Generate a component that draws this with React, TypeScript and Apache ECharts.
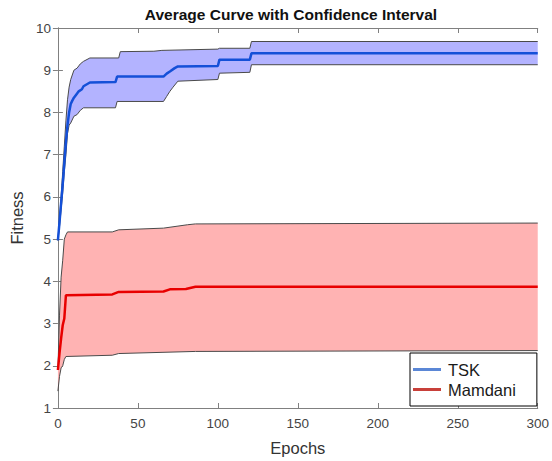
import React, { useEffect, useRef } from "react";
import * as echarts from "echarts";

const xTicks = [0, 50, 100, 150, 200, 250, 300];
const yTicks = [1, 2, 3, 4, 5, 6, 7, 8, 9, 10];
const legendNames = ["TSK", "Mamdani"];

// TSK: [epoch, fitness]
const tskMean = [
  [0, 4.97], [1, 5.4], [2, 5.85], [3, 6.3], [4, 6.8], [5, 7.3], [6, 7.7], [7, 8.0], [8, 8.2],
  [9, 8.28], [10, 8.35], [12, 8.45], [13, 8.5], [15, 8.55], [16, 8.62], [20, 8.71], [36, 8.72],
  [37, 8.85], [66, 8.85], [68, 8.92], [70, 8.97], [73, 9.05], [75, 9.09], [100, 9.1], [101, 9.25],
  [120, 9.25], [121, 9.4], [300, 9.4],
];
const tskUpper = [
  [0, 4.97], [1, 5.5], [2, 6.0], [3, 6.6], [4, 7.2], [5, 7.8], [6, 8.3], [7, 8.6], [8, 8.78],
  [10, 9.0], [12, 9.05], [14, 9.15], [16, 9.21], [20, 9.29], [38, 9.29], [39, 9.44], [60, 9.45],
  [65, 9.47], [100, 9.5], [101, 9.52], [120, 9.52], [121, 9.68], [300, 9.68],
];
const tskLower = [
  [0, 4.97], [1, 5.3], [2, 5.7], [3, 6.1], [4, 6.6], [5, 7.0], [6, 7.5], [7, 7.7], [8, 7.75],
  [10, 7.91], [12, 7.95], [14, 8.05], [16, 8.11], [36, 8.11], [37, 8.26], [66, 8.26], [68, 8.38],
  [70, 8.5], [72, 8.6], [75, 8.74], [100, 8.78], [101, 8.93], [120, 8.95], [121, 9.13], [300, 9.13],
];

// Mamdani: [epoch, fitness]
const mamMean = [
  [0, 1.9], [1, 2.3], [2, 2.65], [3, 2.96], [4, 3.12], [5, 3.67], [34, 3.69], [38, 3.75],
  [66, 3.76], [70, 3.81], [80, 3.82], [86, 3.87], [300, 3.87],
];
const mamUpper = [
  [0, 1.9], [1, 3.2], [2, 4.1], [3, 4.5], [4, 5.0], [5, 5.1], [6, 5.17], [34, 5.17], [38, 5.22],
  [66, 5.26], [81, 5.34], [86, 5.36], [300, 5.38],
];
const mamLower = [
  [0, 1.4], [1, 1.75], [2, 1.95], [3, 2.0], [4, 2.15], [5, 2.22], [34, 2.25], [38, 2.29],
  [86, 2.34], [300, 2.36],
];

const FONT = "'Liberation Sans', Arial, sans-serif";

function bandSeries(upper: number[][], lower: number[][], fill: string) {
  return {
    type: "custom",
    silent: true,
    z: 1,
    data: [[0, 1]],
    renderItem: (params: any, api: any) => {
      if (params.dataIndex !== 0) return null;
      const pts = upper
        .map((p) => api.coord(p))
        .concat(lower.slice().reverse().map((p) => api.coord(p)));
      return {
        type: "polygon",
        shape: { points: pts },
        style: { fill, stroke: "none" },
      };
    },
  };
}

function edgeSeries(data: number[][]) {
  return {
    type: "line",
    data,
    symbol: "none",
    silent: true,
    z: 2,
    lineStyle: { color: "#4a4a4a", width: 1 },
  };
}

export default function App() {
  const ref = useRef<HTMLDivElement>(null);
  useEffect(() => {
    if (!ref.current) return;
    const chart = echarts.init(ref.current, undefined, { renderer: "svg" });
    const axisLine = { show: true, lineStyle: { color: "#808080", width: 1 } };
    const tick = { show: true, inside: true, length: 5, lineStyle: { color: "#808080" } };
    chart.setOption({
      animation: false,
      backgroundColor: "#ffffff",
      title: {
        text: "Average Curve with Confidence Interval",
        left: 286,
        textAlign: "center",
        top: 1,
        textStyle: { fontFamily: FONT, fontSize: 15.5, fontWeight: "bold", color: "#111" },
      },
      grid: { left: 55, right: 12, top: 28, bottom: 51, containLabel: false },
      xAxis: [
        {
          type: "value",
          min: 0,
          max: 300,
          interval: 50,
          name: "Epochs",
          nameLocation: "middle",
          nameGap: 31,
          nameTextStyle: { fontFamily: FONT, fontSize: 16.5, color: "#333" },
          axisLine,
          axisTick: tick,
          axisLabel: { fontFamily: FONT, fontSize: 13.5, color: "#444", margin: 8 },
          splitLine: { show: false },
        },
        {
          type: "value",
          position: "top",
          min: 0,
          max: 300,
          interval: 50,
          axisLine,
          axisTick: tick,
          axisLabel: { show: false },
          splitLine: { show: false },
        },
      ],
      yAxis: [
        {
          type: "value",
          min: 1,
          max: 10,
          interval: 1,
          name: "Fitness",
          nameLocation: "middle",
          nameGap: 30,
          nameTextStyle: { fontFamily: FONT, fontSize: 16.5, color: "#333" },
          axisLine,
          axisTick: tick,
          axisLabel: { fontFamily: FONT, fontSize: 13.5, color: "#444", margin: 7 },
          splitLine: { show: false },
        },
        {
          type: "value",
          position: "right",
          min: 1,
          max: 10,
          interval: 1,
          axisLine,
          axisTick: tick,
          axisLabel: { show: false },
          splitLine: { show: false },
        },
      ],
      legend: {
        orient: "vertical",
        left: 410,
        top: 353,
        padding: [8, 21, 8, 3],
        itemWidth: 28,
        itemHeight: 3,
        itemGap: 3,
        icon: "rect",
        backgroundColor: "#ffffff",
        borderColor: "#000000",
        borderWidth: 1,
        borderRadius: 0,
        textStyle: { fontFamily: FONT, fontSize: 16.5, color: "#1a1a1a", padding: [0, 0, 0, 2] },
        data: [
          { name: legendNames[0], itemStyle: { color: "#5b87d6" } },
          { name: legendNames[1], itemStyle: { color: "#c8403a" } },
        ],
      },
      series: [
        bandSeries(tskUpper, tskLower, "#b3b3ff"),
        bandSeries(mamUpper, mamLower, "#ffb3b3"),
        edgeSeries(tskUpper),
        edgeSeries(tskLower),
        edgeSeries(mamUpper),
        edgeSeries(mamLower),
        {
          name: legendNames[0],
          type: "line",
          data: tskMean,
          symbol: "none",
          z: 3,
          lineStyle: { color: "#1450d8", width: 2.5 },
          itemStyle: { color: "#1450d8" },
        },
        {
          name: legendNames[1],
          type: "line",
          data: mamMean,
          symbol: "none",
          z: 3,
          lineStyle: { color: "#e80000", width: 2.5 },
          itemStyle: { color: "#e80000" },
        },
      ],
    });
    return () => chart.dispose();
  }, []);
  return <div ref={ref} style={{ width: 552, height: 461, position: "absolute", left: 0, top: 0 }} />;
}
